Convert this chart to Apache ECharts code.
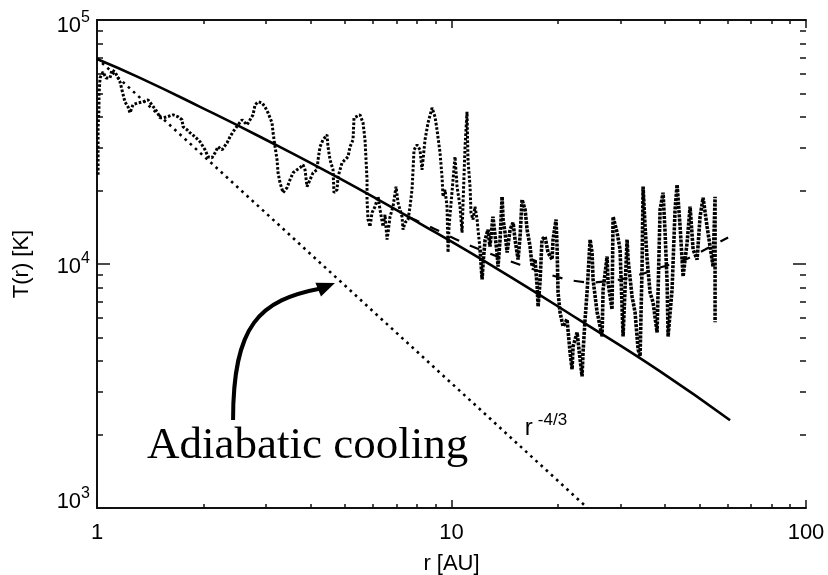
<!DOCTYPE html>
<html><head><meta charset="utf-8">
<script src="https://cdn.jsdelivr.net/npm/echarts@6/dist/echarts.min.js"></script>
<style>html,body{margin:0;padding:0;background:#fff}#c{width:828px;height:575px}</style>
</head><body><div id="c"></div>
<script>
// ---- simulated temperature profile (noisy dotted trace) ----
const rSim = [
1.007,1.007,1.007,1.013,1.013,1.020,1.040,1.060,1.088,1.102,
1.124,1.161,1.176,1.199,1.223,1.239,1.263,1.305,1.348,1.393,
1.429,1.477,1.506,1.536,1.576,1.639,1.693,1.737,1.749,1.795,
1.830,1.890,1.953,2.017,2.057,2.111,2.153,2.195,2.253,2.328,
2.373,2.420,2.500,2.565,2.650,2.702,2.755,2.791,2.846,2.920,
2.978,3.037,3.117,3.138,3.179,3.220,3.241,3.283,3.348,3.436,
3.504,3.573,3.667,3.739,3.813,3.862,3.913,3.990,4.069,4.176,
4.203,4.257,4.341,4.455,4.484,4.543,4.632,4.662,4.755,4.786,
4.911,5.008,5.107,5.173,5.275,5.309,5.520,5.629,5.702,5.740,
5.777,5.777,5.815,5.891,5.968,6.085,6.206,6.286,6.410,6.493,
6.579,6.622,6.708,6.840,6.975,7.066,7.251,7.299,7.394,7.540,
7.639,7.738,7.790,7.840,7.995,8.151,8.257,8.312,8.420,8.586,
8.811,8.985,9.103,9.282,9.403,9.465,9.588,9.715,9.778,9.841,
10.03,10.10,10.23,10.37,10.57,10.71,10.78,10.92,11.06,11.13,
11.28,11.35,11.50,11.65,11.81,11.88,12.04,12.20,12.28,12.44,
12.68,12.84,13.09,13.44,13.53,13.71,13.89,13.98,14.16,14.35,
14.63,14.92,15.11,15.41,15.61,15.81,16.13,16.34,16.66,16.88,
17.21,17.44,17.55,17.77,18.00,18.36,18.72,19.22,19.34,19.72,
19.85,19.98,20.24,20.64,21.18,21.60,21.88,22.03,22.61,23.05,
23.35,23.50,23.81,24.12,24.60,24.92,25.08,25.75,25.91,26.59,
26.77,27.47,27.65,28.37,28.56,29.32,29.89,30.48,31.28,31.49,
32.31,32.95,33.60,34.04,34.48,34.71,35.16,35.63,36.32,37.04,
38.01,38.76,39.52,40.04,40.57,40.83,41.90,42.72,43.29,44.14,
45.01,46.20,47.10,48.03,49.29,50.26,51.25,52.60,53.63,54.69,
55.40,55.40];
const TSim = [
23200,29390,36500,42840,49340,57910,61270,57910,57910,62440,
61270,55760,51720,46190,44070,41640,44900,45760,46190,47070,
44900,42040,39730,39730,40110,40870,40110,38990,36500,35480,
34490,33220,31690,29390,27510,27260,28570,30230,29390,31390,
33220,34820,37200,38990,37200,38990,40870,44900,46190,45760,
44070,41640,37900,34490,30230,26750,23660,21540,19600,20550,
22160,23660,24340,24810,25520,24340,20750,22160,23660,24340,
26750,30230,32290,33850,30230,26750,24340,19600,20160,22790,
26000,26750,27510,30230,32290,39730,40870,37900,32290,26750,
22160,18350,15200,14230,16230,17180,18870,16700,14230,15930,
12590,13440,15630,17180,20750,17840,15630,13830,14780,15200,
17180,20160,24340,29390,30800,29390,24340,26750,32290,37900,
43650,40110,35480,28570,22790,18870,20160,17180,11140,14230,
19600,22160,27510,20750,17180,13440,17840,30230,42040,26750,
20750,16230,15200,17180,15200,13830,11460,8640,10140,12590,
13830,11790,15630,11140,9765,12590,18870,15200,13440,11140,
13830,14780,12590,10430,12950,18350,16700,13830,11790,9765,
10430,8090,6690,8400,12590,12950,11140,10430,12590,15200,
11790,7640,6330,5550,5930,4345,3700,4597,5240,4070,
3464,4345,5930,7640,12590,11140,8640,6330,6095,5046,
7860,10730,8400,6510,15630,13440,11460,5046,12590,10430,
7360,6330,4470,4185,9765,20750,14230,10430,7640,6950,
5240,16700,19600,13440,8400,5046,7860,16700,21140,14230,
8885,12240,17180,11460,10430,15630,18700,14230,11790,9765,
18870,5765];

// ---- model curve (solid) ----
const rModel = [1,1.322,1.953,2.883,4.848,8.151,13.71,23.05,38.76,61.07];
const TModel = [69200,57910,44070,33220,22360,14640,9400,5874,3631,2289];

// ---- adiabatic r^-4/3 (dotted) ----
const rAdiab = [1, 24.2];
const TAdiab = [69700, 1000];

// ---- averaged profile (dashed) ----
const rMean = [7.64,8.70,10.78,13.71,17.77,21.18,24.60,29.89,34.04,38.76,45.60,51.92,60.29];
const TMean = [15490,14230,12240,10630,9313,8640,8400,8640,9054,9673,10430,11460,12830];

// ---- axis ticks ----
const xMajorTicks = [1, 10, 100];
const xMinorTicks = [2,3,4,5,6,7,8,9,20,30,40,50,60,70,80,90];
const yMajorTicks = [1000, 10000, 100000];
const yMinorTicks = [2000,3000,4000,5000,6000,7000,8000,9000,20000,30000,40000,50000,60000,70000,80000,90000];

// ---- annotation anchors (data units) ----
const arrowTip = [4.69, 8360];
const arrowTail = [2.42, 2296];
const annoTextAnchor = [1.384, 1795];
const powerLabelAnchor = [16.1, 2188];

const zip = (a, b) => a.map((v, i) => [v, b[i]]);
const SANS = '"Liberation Sans", Arial, sans-serif';
const FRAME = '#111';
const SPLIT = 146; // where the trace becomes dense

function tickAxis(pos, min, max, ticks, len) {
  return {
    type: 'value', position: pos, min: min, max: max, gridIndex: 0,
    axisLine: {show: false}, axisLabel: {show: false}, splitLine: {show: false},
    axisTick: {show: true, inside: true, length: len,
      customValues: ticks.map(v => Math.log10(v)),
      lineStyle: {color: FRAME, width: 1.5}}
  };
}

function yLabel(v) {
  const e = Math.round(Math.log10(v));
  const core = '{b|10}{s|' + e + '}';
  if (e === 3) return core + '\n{g3|}';
  if (e === 5) return '{g5|}\n' + core;
  return core;
}

const chart = echarts.init(document.getElementById('c'), null, {renderer: 'canvas'});
chart.setOption({
  animation: false,
  backgroundColor: '#fff',
  grid: {left: 97, right: 22, top: 20, bottom: 67, containLabel: false, outerBoundsMode: 'none'},
  xAxis: [
    {type: 'log', logBase: 10, min: 1, max: 100, position: 'bottom',
     axisLine: {show: true, lineStyle: {color: FRAME, width: 2}},
     axisTick: {show: false}, splitLine: {show: false}, minorTick: {show: false},
     axisLabel: {fontSize: 22, color: '#000', fontFamily: SANS, margin: 14},
     name: 'r [AU]', nameLocation: 'middle', nameGap: 45,
     nameTextStyle: {fontSize: 22, color: '#000', fontFamily: SANS}},
    {type: 'log', logBase: 10, min: 1, max: 100, position: 'top',
     axisLine: {show: true, lineStyle: {color: FRAME, width: 2}},
     axisTick: {show: false}, axisLabel: {show: false}, splitLine: {show: false}},
    tickAxis('bottom', 0, 2, xMajorTicks, 8),
    tickAxis('bottom', 0, 2, xMinorTicks, 4),
    tickAxis('top', 0, 2, xMajorTicks, 8),
    tickAxis('top', 0, 2, xMinorTicks, 4)
  ],
  yAxis: [
    {type: 'log', logBase: 10, min: 1000, max: 100000, position: 'left',
     axisLine: {show: true, lineStyle: {color: FRAME, width: 2}},
     axisTick: {show: false}, splitLine: {show: false}, minorTick: {show: false},
     axisLabel: {margin: 7, formatter: yLabel,
       rich: {
         b: {fontSize: 22, color: '#000', fontFamily: SANS, verticalAlign: 'bottom', lineHeight: 27},
         s: {fontSize: 16, color: '#000', fontFamily: SANS, verticalAlign: 'top', lineHeight: 27},
         g3: {fontSize: 1, lineHeight: 18},
         g5: {fontSize: 1, lineHeight: 6}
       }},
     name: 'T(r) [K]', nameLocation: 'middle', nameGap: 64, nameRotate: 90,
     nameTextStyle: {fontSize: 22, color: '#000', fontFamily: SANS}},
    {type: 'log', logBase: 10, min: 1000, max: 100000, position: 'right',
     axisLine: {show: true, lineStyle: {color: FRAME, width: 2}},
     axisTick: {show: false}, axisLabel: {show: false}, splitLine: {show: false}},
    tickAxis('left', 3, 5, yMajorTicks, 13),
    tickAxis('left', 3, 5, yMinorTicks, 6),
    tickAxis('right', 3, 5, yMajorTicks, 13),
    tickAxis('right', 3, 5, yMinorTicks, 6)
  ],
  series: [
    {type: 'line', name: 'simulation', xAxisIndex: 0, yAxisIndex: 0,
     data: zip(rSim, TSim).slice(0, SPLIT + 1), showSymbol: false, silent: true,
     lineStyle: {color: '#000', width: 3, type: [2.6, 1.8], cap: 'butt'}},
    {type: 'line', name: 'simulation (outer)', xAxisIndex: 0, yAxisIndex: 0,
     data: zip(rSim, TSim).slice(SPLIT), showSymbol: false, silent: true,
     lineStyle: {color: '#000', width: 3.6, type: [3, 1.2], cap: 'butt'}},
    {type: 'line', name: 'model', xAxisIndex: 0, yAxisIndex: 0,
     data: zip(rModel, TModel), smooth: true, showSymbol: false, silent: true,
     lineStyle: {color: '#000', width: 2.6}},
    {type: 'line', name: 'adiabatic', xAxisIndex: 0, yAxisIndex: 0,
     data: zip(rAdiab, TAdiab), showSymbol: false, silent: true,
     lineStyle: {color: '#000', width: 2.6, type: [2.6, 4.4]}},
    {type: 'line', name: 'mean', xAxisIndex: 0, yAxisIndex: 0,
     data: zip(rMean, TMean), smooth: 0.3, showSymbol: false, silent: true,
     lineStyle: {color: '#000', width: 2.2, type: [10, 12]}}
  ]
});

const finder = {xAxisIndex: 0, yAxisIndex: 0};
const tip = chart.convertToPixel(finder, arrowTip);
const tail = chart.convertToPixel(finder, arrowTail);
const txt = chart.convertToPixel(finder, annoTextAnchor);
const pl = chart.convertToPixel(finder, powerLabelAnchor);

const dir = [0.93, -0.37];
const headLen = 18, headHalf = 7.5;
const base = [tip[0] - headLen * dir[0], tip[1] - headLen * dir[1]];
const perp = [-dir[1], dir[0]];
const endPt = [tip[0] - 14 * dir[0], tip[1] - 14 * dir[1]];

chart.setOption({
  graphic: [
    {type: 'bezierCurve', silent: true,
     shape: {x1: tail[0], y1: tail[1],
             cpx1: tail[0], cpy1: tail[1] - 95,
             cpx2: tail[0] + 26, cpy2: tail[1] - 120,
             x2: endPt[0], y2: endPt[1]},
     style: {stroke: '#000', lineWidth: 4, fill: null}},
    {type: 'polygon', silent: true,
     shape: {points: [tip,
       [base[0] + headHalf * perp[0], base[1] + headHalf * perp[1]],
       [base[0] - headHalf * perp[0], base[1] - headHalf * perp[1]]]},
     style: {fill: '#000'}},
    {type: 'text', silent: true, x: txt[0], y: txt[1],
     style: {text: 'Adiabatic cooling', fontSize: 45, fontFamily: '"Liberation Serif", "Times New Roman", serif',
             fill: '#000', align: 'left', verticalAlign: 'middle'}},
    {type: 'text', silent: true, x: pl[0], y: pl[1],
     style: {text: '{r|r}{s|-4/3}', align: 'left', verticalAlign: 'middle',
       rich: {
         r: {fontSize: 24, fontFamily: SANS, fill: '#000', verticalAlign: 'bottom', lineHeight: 30},
         s: {fontSize: 17, fontFamily: SANS, fill: '#000', verticalAlign: 'top', lineHeight: 30, padding: [2, 0, 0, 5]}
       }}}
  ]
});
</script>
</body></html>
